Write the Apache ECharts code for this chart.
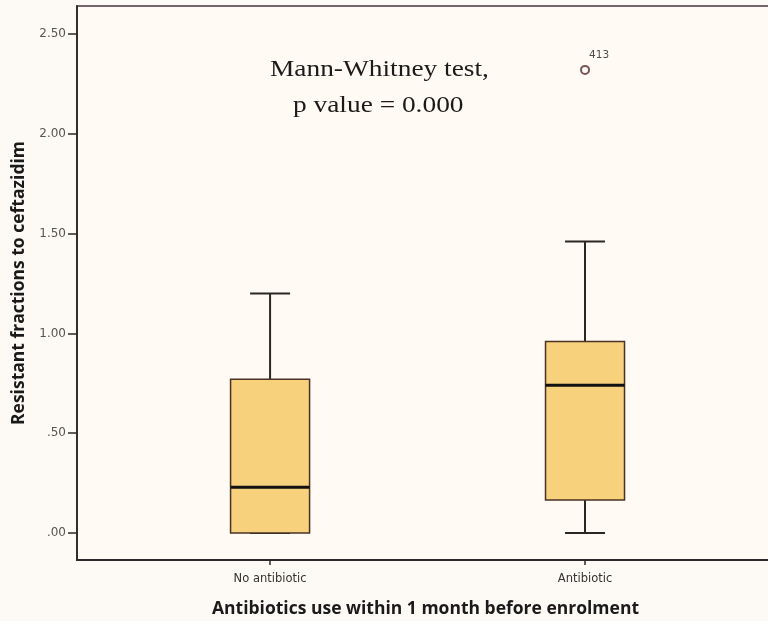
<!DOCTYPE html>
<html>
<head>
<meta charset="utf-8">
<script src="https://cdn.jsdelivr.net/npm/echarts@6/dist/echarts.min.js"></script>
<style>
html,body{margin:0;padding:0;background:#fdfaf5;}
#chart{width:768px;height:621px;}
</style>
</head>
<body>
<div id="chart"></div>
<script>
// ---- data ----
const categories = ["No antibiotic", "Antibiotic"];
const categoryPositions = [1, 2];
// [min, Q1, median, Q3, max]
const boxNoAntibiotic = [0.00, 0.00, 0.23, 0.77, 1.20];
const boxAntibiotic = [0.00, 0.165, 0.74, 0.96, 1.46];
const outlierValues = [[2, 2.32]];
const outlierLabels = ["413"];
const yTickValues = [0, 0.5, 1.0, 1.5, 2.0, 2.5];
const yTickLabels = [".00", ".50", "1.00", "1.50", "2.00", "2.50"];
const annotationLines = ["Mann-Whitney test,", "p value = 0.000"];

const boxData = [
  [categoryPositions[0]].concat(boxNoAntibiotic),
  [categoryPositions[1]].concat(boxAntibiotic)
];

const BOX_HALF = 39.5, CAP_HALF = 20;

const chart = echarts.init(document.getElementById('chart'), null, {renderer: 'canvas'});
const option = {
  backgroundColor: '#fdfaf5',
  animation: false,
  grid: {
    left: 77, top: 6, right: -6, bottom: 61,
    outerBoundsMode: 'none', containLabel: false,
    show: true, backgroundColor: '#fffaf3', borderColor: '#4a3540', borderWidth: 1.5
  },
  xAxis: {
    type: 'value',
    min: 0.387, max: 2.6,
    name: 'Antibiotics use within 1 month before enrolment',
    nameLocation: 'middle',
    nameGap: 40,
    nameTextStyle: {fontFamily: 'Open Sans', fontWeight: 'bold', fontSize: 17.5, color: '#1a1a1a'},
    splitLine: {show: false},
    axisLine: {show: true, onZero: false, lineStyle: {color: '#2a2a2a', width: 1.8}},
    axisTick: {show: true, length: 5, customValues: categoryPositions, lineStyle: {color: '#2a2a2a', width: 1.5}},
    axisLabel: {
      customValues: categoryPositions,
      fontFamily: 'DejaVu Sans', fontSize: 11.5, color: '#333', margin: 13,
      formatter: function (v) { const i = categoryPositions.indexOf(v); return i >= 0 ? categories[i] : ''; }
    }
  },
  yAxis: {
    type: 'value',
    min: -0.135, max: 2.64,
    name: 'Resistant fractions to ceftazidim',
    nameLocation: 'middle',
    nameGap: 46,
    nameTextStyle: {fontFamily: 'Open Sans', fontWeight: 'bold', fontSize: 17.5, color: '#1a1a1a'},
    splitLine: {show: false},
    axisLine: {show: true, lineStyle: {color: '#2a2a2a', width: 1.8}},
    axisTick: {show: true, length: 9, customValues: yTickValues, lineStyle: {color: '#2a2a2a', width: 1.5}},
    axisLabel: {
      customValues: yTickValues,
      fontFamily: 'DejaVu Sans', fontSize: 12, color: '#555', margin: 11,
      formatter: function (v) {
        let i = -1;
        yTickValues.forEach(function (t, k) { if (Math.abs(t - v) < 1e-9) i = k; });
        return i >= 0 ? yTickLabels[i] : '';
      }
    }
  },
  graphic: [
    {type: 'text', x: 270, y: 70, scaleX: 1.19,
     style: {text: annotationLines[0], x: 0, y: 0, verticalAlign: 'middle', font: '23px "Liberation Serif"', fill: '#1a1a1a'}},
    {type: 'text', x: 293, y: 106, scaleX: 1.19,
     style: {text: annotationLines[1], x: 0, y: 0, verticalAlign: 'middle', font: '23px "Liberation Serif"', fill: '#1a1a1a'}}
  ],
  series: [
    {
      type: 'custom',
      data: boxData,
      encode: {x: 0, y: [1, 2, 3, 4, 5]},
      renderItem: function (params, api) {
        const x = api.value(0);
        const pMin = api.coord([x, api.value(1)]);
        const pQ1 = api.coord([x, api.value(2)]);
        const pMed = api.coord([x, api.value(3)]);
        const pQ3 = api.coord([x, api.value(4)]);
        const pMax = api.coord([x, api.value(5)]);
        const cx = pMed[0];
        const lineStyle = {stroke: '#2b2622', lineWidth: 2};
        return {
          type: 'group',
          children: [
            {type: 'line', shape: {x1: cx, y1: pQ1[1], x2: cx, y2: pMin[1]}, style: lineStyle},
            {type: 'line', shape: {x1: cx, y1: pQ3[1], x2: cx, y2: pMax[1]}, style: lineStyle},
            {type: 'line', shape: {x1: cx - CAP_HALF, y1: pMin[1], x2: cx + CAP_HALF, y2: pMin[1]}, style: lineStyle},
            {type: 'line', shape: {x1: cx - CAP_HALF, y1: pMax[1], x2: cx + CAP_HALF, y2: pMax[1]}, style: lineStyle},
            {type: 'rect', shape: {x: cx - BOX_HALF, y: pQ3[1], width: BOX_HALF * 2, height: pQ1[1] - pQ3[1]},
             style: {fill: '#f7d17c', stroke: '#4a3226', lineWidth: 1.5}},
            {type: 'line', shape: {x1: cx - BOX_HALF, y1: pMed[1], x2: cx + BOX_HALF, y2: pMed[1]},
             style: {stroke: '#111', lineWidth: 3}}
          ]
        };
      }
    },
    {
      type: 'scatter',
      data: outlierValues,
      symbol: 'emptyCircle',
      symbolSize: 8,
      itemStyle: {color: '#5a2a2a', borderWidth: 1.5},
      label: {
        show: true, position: [9, -15],
        fontFamily: 'DejaVu Sans', fontSize: 10.5, color: '#222',
        formatter: function (p) { return outlierLabels[p.dataIndex]; }
      }
    }
  ]
};
chart.setOption(option);
</script>
</body>
</html>
